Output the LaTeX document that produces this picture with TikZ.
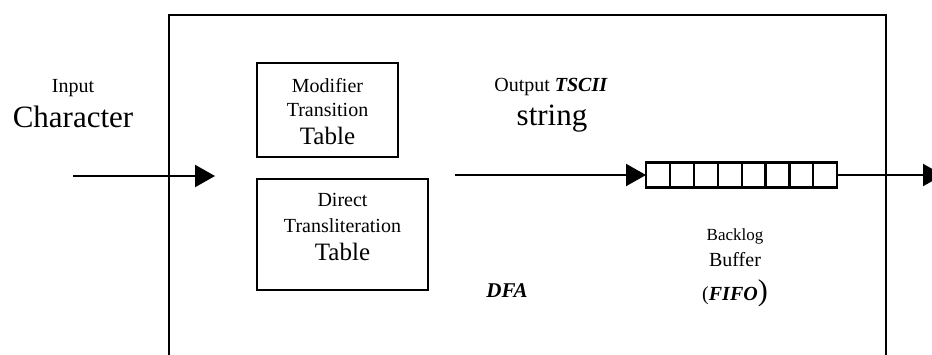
\documentclass[tikz,border=0pt]{standalone}
\usepackage{fontspec}
\setmainfont{Liberation Serif}
\usetikzlibrary{arrows.meta}
\newcommand{\fsz}[1]{\fontsize{#1}{#1}\selectfont}
\newcommand{\bi}[1]{\textbf{\textit{#1}}}

\begin{document}
\begin{tikzpicture}[x=1pt,y=-1pt,
  frame/.style={line width=2.4pt},
  flow/.style={line width=2.2pt,-{Triangle[length=20pt,width=22pt]}},
  tablebox/.style={draw,line width=2.4pt,inner sep=0pt},
  lbl/.style={anchor=base,inner sep=0pt},
  cell/.style={draw,line width=2.2pt,minimum width=23.9pt,minimum height=25pt,inner sep=0pt,outer sep=0pt}]
\useasboundingbox (0,0) rectangle (932,354);
\clip (0,0) rectangle (932,354);

% DFA enclosure, open at the bottom
\draw[frame] (169,356) -- (169,15) -- (886,15) -- (886,356);

% input side
\node[lbl] (inlbl) at (73,92) {\fsz{20}Input};
\node[lbl] (inchar) at (73,127) {\fsz{31}Character};
\coordinate (istart) at (73,176);
\coordinate (iend) at (215,176);
\draw[flow] (istart) -- (iend);

% lookup tables
\node[tablebox,minimum width=141pt,minimum height=94pt] (mtt) at (327.5,110) {};
\node[lbl] (mtt1) at (327.5,92) {\fsz{20}Modifier};
\node[lbl] (mtt2) at (327.5,116) {\fsz{20}Transition};
\node[lbl] (mtt3) at (327.5,144) {\fsz{25}Table};

\node[tablebox,minimum width=171pt,minimum height=111pt] (dtt) at (342.5,234.5) {};
\node[lbl] (dtt1) at (342.5,206) {\fsz{20}Direct};
\node[lbl] (dtt2) at (342.5,232) {\fsz{20}Transliteration};
\node[lbl] (dtt3) at (342.5,260) {\fsz{25}Table};

% output labels
\node[lbl] (outlbl) at (551,91) {\fsz{20}Output \bi{TSCII}};
\node[lbl] (outstr) at (552,125) {\fsz{31}string};
\node[lbl] (dfa) at (507,297) {\fsz{21}\bi{DFA}};

% backlog buffer
\foreach \i in {0,...,7}
  \node[cell] (c\i) at (657.95+23.9*\i,175) {};
\coordinate (ostart) at (455,175);
\coordinate (oend) at (943,175);
\draw[flow] (ostart) -- (c0.west);
\draw[flow] (c7.east) -- (oend);

\node[lbl] (bl1) at (735,240) {\fsz{17}Backlog};
\node[lbl] (bl2) at (735,266) {\fsz{20}Buffer};
\node[lbl] (bl3) at (735,300) {\fsz{20}(\bi{FIFO}\fsz{30})};
\end{tikzpicture}
\end{document}
